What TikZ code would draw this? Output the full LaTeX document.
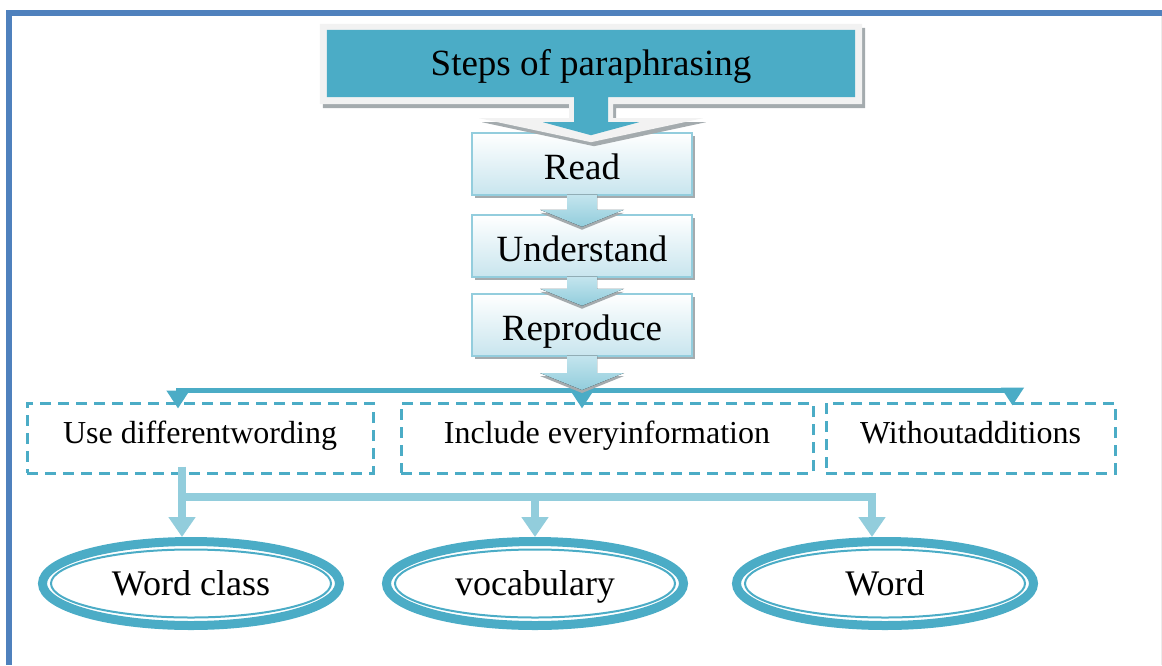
\documentclass[tikz,border=0pt]{standalone}
\usepackage{fontspec}
\setmainfont{Liberation Serif}
\usetikzlibrary{calc,arrows.meta,shapes.geometric,shadows}
\definecolor{teal1}{HTML}{4BACC6}
\definecolor{lblue}{HTML}{92CDDC}
\definecolor{frameblue}{HTML}{4F81BD}
\definecolor{boxedge}{HTML}{93CDDD}
\definecolor{boxbot}{HTML}{C8E5EE}
\definecolor{shadowgray}{HTML}{A4ABAE}
\definecolor{bevel}{HTML}{F2F2F2}
\definecolor{arrtop}{HTML}{C4E5EE}
\definecolor{arrbot}{HTML}{92CDDC}
\pgfdeclarelayer{fg}
\pgfsetlayers{main,fg}
\newcommand{\chainarr}[2]{%
  \fill[shadowgray] ($(#2)+(-42,-14)$) -- ($(#2)+(0,3)$) -- ($(#2)+(42,-14)$) -- cycle;
  \fill[top color=arrtop,bottom color=arrbot] ($(#1.south)+(-15,-2)$) -- ($(#2)+(-15,-17)$) -- ($(#2)+(-42,-17)$) -- (#2) -- ($(#2)+(42,-17)$) -- ($(#2)+(15,-17)$) -- ($(#1.south)+(15,-2)$) -- cycle;
}
\newcommand{\outerpath}[2]{($(title.north west)+(-7+#1,-6+#2)$) -- ($(title.north east)+(7+#1,-6+#2)$) -- ($(title.south east)+(7+#1,7+#2)$) -- ($(title.south)+(22+#1,7+#2)$) -- ($(title.south)+(22+#1,21+#2)$) -- ($(title.south)+(112+#1,21+#2)$) -- ($(title.south)+(#1,45+#2)$) -- ($(title.south)+(-112+#1,21+#2)$) -- ($(title.south)+(-22+#1,21+#2)$) -- ($(title.south)+(-22+#1,7+#2)$) -- ($(title.south west)+(-7+#1,7+#2)$) -- cycle}
\begin{document}
\begin{tikzpicture}[x=1pt,y=-1pt,
  chainbox/.style={draw=boxedge, line width=2.5pt, top color=white, bottom color=boxbot,
    minimum width=220pt, minimum height=62pt, inner sep=0pt, text height=30pt, text depth=0pt,
    drop shadow={shadow xshift=3pt, shadow yshift=-3pt, fill=shadowgray, opacity=1},
    font=\fontsize{37}{44}\selectfont},
  titlenode/.style={minimum width=528pt, minimum height=67pt, inner sep=0pt,
    text height=23pt, text depth=0pt, font=\fontsize{37}{44}\selectfont},
  dbox/.style={draw=teal1, line width=3pt, dash pattern=on 11pt off 7pt, minimum height=70pt,
    inner sep=0pt, text height=10pt, text depth=0pt, font=\fontsize{32}{38}\selectfont},
  ering/.style={ellipse, draw=teal1, line width=9pt, minimum width=297pt, minimum height=84pt,
    inner sep=0pt, text height=23pt, text depth=0pt, font=\fontsize{36}{42}\selectfont},
  iring/.style={draw=teal1, line width=2pt},
  tconn/.style={draw=teal1, line width=5pt},
  tarrow/.style={tconn, -{Triangle[width=22pt,length=18pt]}},
  lconn/.style={draw=lblue, line width=8pt},
  larrow/.style={lconn, -{Triangle[width=26pt,length=20pt]}},
]
\useasboundingbox (0,0) rectangle (1162,665);
% frame
\fill[frameblue] (6,10) rectangle (12,665);
\fill[frameblue] (6,10) rectangle (1162,16);
\draw[gray!15, line width=1pt] (1161.5,16) -- (1161.5,665);

% chain boxes
\node[chainbox] (read) at (582,164) {Read};
\node[chainbox] (und) at (582,246) {Understand};
\node[chainbox] (rep) at (582,325) {Reproduce};
\coordinate (tu) at ($(und.north)+(0,13)$);
\coordinate (tr) at ($(rep.north)+(0,13)$);
\coordinate (hub) at (582,390);
\chainarr{read}{tu}
\chainarr{und}{tr}

% title
\begin{pgfonlayer}{fg}
\node[titlenode] (title) at (591,63.5) {Steps of paraphrasing};
\end{pgfonlayer}
\fill[shadowgray] \outerpath{3}{4};
\fill[bevel] \outerpath{0}{0};
\fill[teal1] (title.north west) -- (title.north east) -- (title.south east) -- ($(title.south)+(17,0)$) -- ($(title.south)+(17,25)$) -- ($(title.south)+(48,25)$) -- ($(title.south)+(0,38)$) -- ($(title.south)+(-48,25)$) -- ($(title.south)+(-17,25)$) -- ($(title.south)+(-17,0)$) -- (title.south west) -- cycle;

% dashed boxes
\node[dbox, minimum width=346pt] (d1) at (200,438) {Use differentwording};
\node[dbox, minimum width=412pt] (d2) at (607,438) {Include everyinformation};
\node[dbox, minimum width=289pt] (d3) at (970.5,438) {Withoutadditions};

% teal connectors
\draw[tarrow] (hub) -| ([xshift=-22pt, yshift=-7pt]d1.north);
\draw[tarrow] (hub) -| ([xshift=42pt, yshift=-4pt]d3.north);
\draw[tarrow] (hub) -- ([xshift=-25pt, yshift=-7pt]d2.north);
\chainarr{rep}{hub}

% ellipses
\node[ering] (e1) at (191,583.5) {Word class};
\node[ering] (e2) at (535,583.5) {vocabulary};
\node[ering] (e3) at (885,583.5) {Word};
\draw[iring] (e1.center) ellipse [x radius=140, y radius=34];
\draw[iring] (e2.center) ellipse [x radius=140, y radius=34];
\draw[iring] (e3.center) ellipse [x radius=140, y radius=34];

% light blue connectors
\coordinate (j1) at (182,497);
\coordinate (j2) at (535,497);
\coordinate (j3) at (872,497);
\draw[lconn] ([xshift=-18pt, yshift=8pt]d1.south) -- (j1) -- ([xshift=4pt]j3);
\draw[larrow] ([yshift=4pt]j1) -- (e1.north -| j1);
\draw[larrow] (j2) -- (e2.north -| j2);
\draw[larrow] ([yshift=4pt]j3) -- (e3.north -| j3);
\end{tikzpicture}
\end{document}
